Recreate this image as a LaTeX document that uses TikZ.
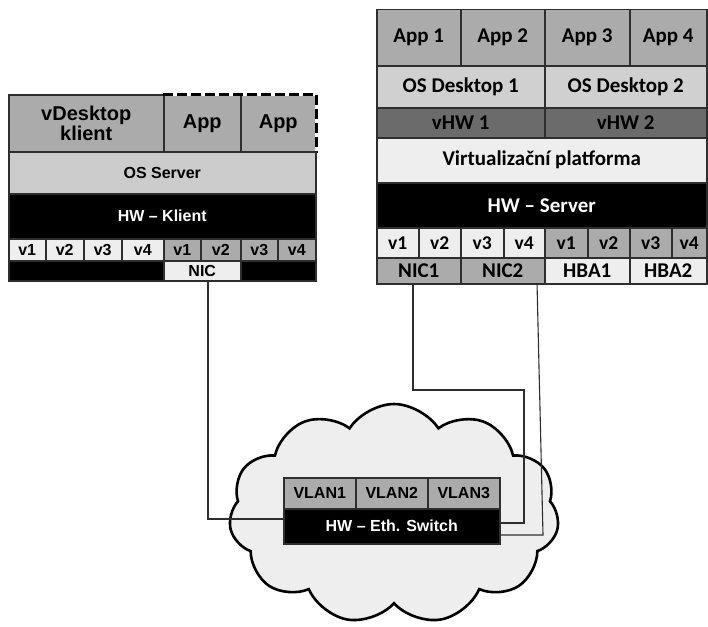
\documentclass[tikz,border=0pt]{standalone}
\usepackage{fontspec}
\setmainfont{Liberation Sans}
\newfontfamily\calfont{Carlito}
\usetikzlibrary{shapes.symbols}

\definecolor{gA}{HTML}{ABABAB}
\definecolor{gOS}{HTML}{CCCCCC}
\definecolor{gDK}{HTML}{D0D0D0}
\definecolor{gL}{HTML}{EEEEEE}
\definecolor{gV}{HTML}{6B6B6B}
\definecolor{edge}{HTML}{2E2E2E}

% \cellbox{name}{x1}{y1}{x2}{y2}{style}{text}
\newcommand\cellbox[7]{%
  \node[cell,#6,minimum width={#4pt-#2pt},minimum height={#5pt-#3pt}] (#1) at (#2,#3) {#7};}

\begin{document}
\begin{tikzpicture}[x=1pt,y=-1pt,
  cell/.style={draw=edge,line width=1.5pt,inner sep=0pt,anchor=north west,align=center},
  lf/.style={font=\fontsize{16}{18}\selectfont\bfseries},
  lbig/.style={font=\fontsize{20}{19.5}\selectfont\bfseries},
  rf/.style={font=\calfont\fontsize{21}{23}\selectfont\bfseries},
  rv/.style={font=\calfont\fontsize{19.5}{21}\selectfont\bfseries},
  wire/.style={draw=edge,line width=1.1pt},
  netcloud/.style={cloud,cloud puffs=11,cloud puff arc=115,aspect=1.48,
     draw=black,fill=gL,line width=2.6pt,minimum width=330pt,minimum height=220pt}
]
\useasboundingbox (0,0) rectangle (708,626);

% ---------- client ----------
\cellbox{vd}{8}{94}{163}{151}{fill=gA,lbig}{vDesktop\\klient}
\cellbox{capa}{163}{94}{240}{151}{fill=gA,lbig}{App}
\cellbox{capb}{240}{94}{315}{151}{fill=gA,lbig}{App}
\draw[white,line width=3pt] (capa.north west) -- (capb.north east) -- (capb.south east);
\draw[black,line width=3pt,dash pattern=on 10pt off 4pt] (capa.north west) -- (capb.north east) -- (capb.south east);
\cellbox{oss}{8}{151}{315}{193}{fill=gOS,lf}{OS Server}
\cellbox{hwk}{8}{193}{315}{238}{fill=black,text=white,lf}{HW – Klient}
\cellbox{cv1}{8}{238}{45}{260}{fill=gL,lf}{v1}
\cellbox{cv2}{45}{238}{83}{260}{fill=gL,lf}{v2}
\cellbox{cv3}{83}{238}{121}{260}{fill=gL,lf}{v3}
\cellbox{cv4}{121}{238}{163}{260}{fill=gL,lf}{v4}
\cellbox{cv5}{163}{238}{200}{260}{fill=gA,lf}{v1}
\cellbox{cv6}{200}{238}{240}{260}{fill=gA,lf}{v2}
\cellbox{cv7}{240}{238}{277}{260}{fill=gA,lf}{v3}
\cellbox{cv8}{277}{238}{315}{260}{fill=gA,lf}{v4}
\cellbox{cblk1}{8}{260}{163}{280}{fill=black,lf}{}
\cellbox{cnic}{163}{260}{240}{280}{fill=gL,lf}{NIC}
\cellbox{cblk2}{240}{260}{315}{280}{fill=black,lf}{}

% ---------- server ----------
\cellbox{ap1}{376}{9}{460}{65}{fill=gA,rf}{App 1}
\cellbox{ap2}{460}{9}{544}{65}{fill=gA,rf}{App 2}
\cellbox{ap3}{544}{9}{629}{65}{fill=gA,rf}{App 3}
\cellbox{ap4}{629}{9}{706}{65}{fill=gA,rf}{App 4}
\cellbox{osd1}{376}{65}{544}{107}{fill=gDK,rf}{OS Desktop 1}
\cellbox{osd2}{544}{65}{706}{107}{fill=gDK,rf}{OS Desktop 2}
\cellbox{vhw1}{376}{107}{544}{137}{fill=gV,rf}{vHW 1}
\cellbox{vhw2}{544}{107}{706}{137}{fill=gV,rf}{vHW 2}
\cellbox{virt}{376}{137}{706}{182}{fill=gL,rf}{Virtualizační platforma}
\cellbox{hws}{376}{182}{706}{227}{fill=black,text=white,rf}{HW – Server}
\cellbox{sv1}{376}{227}{418}{257}{fill=gL,rv}{v1}
\cellbox{sv2}{418}{227}{460}{257}{fill=gL,rv}{v2}
\cellbox{sv3}{460}{227}{503}{257}{fill=gL,rv}{v3}
\cellbox{sv4}{503}{227}{544}{257}{fill=gL,rv}{v4}
\cellbox{sv5}{544}{227}{587}{257}{fill=gA,rv}{v1}
\cellbox{sv6}{587}{227}{629}{257}{fill=gA,rv}{v2}
\cellbox{sv7}{629}{227}{671}{257}{fill=gA,rv}{v3}
\cellbox{sv8}{671}{227}{706}{257}{fill=gA,rv}{v4}
\cellbox{nic1}{376}{257}{460}{283}{fill=gA,rf}{NIC1}
\cellbox{nic2}{460}{257}{544}{283}{fill=gA,rf}{NIC2}
\cellbox{hba1}{544}{257}{629}{283}{fill=gL,rf}{HBA1}
\cellbox{hba2}{629}{257}{706}{283}{fill=gL,rf}{HBA2}

% ---------- network ----------
\node[netcloud] (net) at (394,514) {};

\coordinate (wa) at (208,519);
\coordinate (wb1) at (413,390);
\coordinate (wb2) at (524,523);
\coordinate (wc1) at (537,283);
\coordinate (wc2) at (543,535);

\cellbox{vl1}{283}{477}{355}{508}{fill=gA,lf}{VLAN1}
\cellbox{vl2}{355}{477}{427}{508}{fill=gA,lf}{VLAN2}
\cellbox{vl3}{427}{477}{499}{508}{fill=gA,lf}{VLAN3}
\cellbox{hwsw}{283}{508}{499}{543}{fill=black,text=white,lf}{HW – Eth. Switch}

\draw[wire] (cnic.south -| wa) |- (hwsw.west |- wa);
\draw[wire] (nic1.south -| wb1) -- (wb1) -| (wb2) -- (hwsw.east |- wb2);
\draw[wire] (wc1) -- (wc2) -- (hwsw.east |- wc2);
\end{tikzpicture}
\end{document}
